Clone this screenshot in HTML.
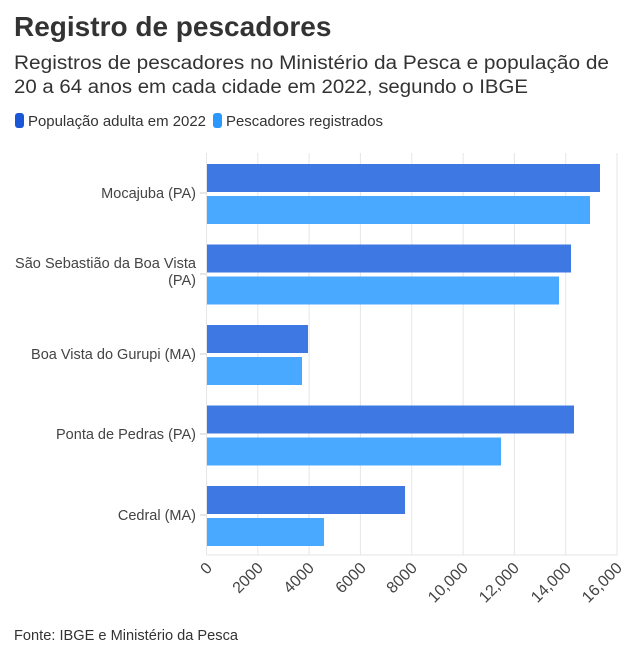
<!DOCTYPE html>
<html><head><meta charset="utf-8"><style>
body{margin:0;background:#fff;font-family:"Liberation Sans",sans-serif;color:#333;}
</style></head><body>
<svg width="639" height="655" xmlns="http://www.w3.org/2000/svg" font-family="Liberation Sans, sans-serif">
<rect width="639" height="655" fill="#fff"/>
<text x="14" y="36" font-size="28" font-weight="bold" fill="#333">Registro de pescadores</text>
<text x="14" y="69" font-size="19" fill="#333" textLength="595" lengthAdjust="spacingAndGlyphs">Registros de pescadores no Ministério da Pesca e população de</text>
<text x="14" y="93" font-size="19" fill="#333" textLength="514" lengthAdjust="spacingAndGlyphs">20 a 64 anos em cada cidade em 2022, segundo o IBGE</text>
<rect x="15" y="113" width="9" height="15" rx="3" fill="#1a57d8"/>
<text x="28" y="126" font-size="14.5" fill="#333" textLength="178" lengthAdjust="spacingAndGlyphs">População adulta em 2022</text>
<rect x="213" y="113" width="9" height="15" rx="3" fill="#2a98ff"/>
<text x="226" y="126" font-size="14.5" fill="#333" textLength="157" lengthAdjust="spacingAndGlyphs">Pescadores registrados</text>
<g stroke="#e6e6e6" stroke-width="1">
<line x1="206.5" y1="153" x2="206.5" y2="555"/><line x1="257.8" y1="153" x2="257.8" y2="555"/><line x1="309.1" y1="153" x2="309.1" y2="555"/><line x1="360.4" y1="153" x2="360.4" y2="555"/><line x1="411.8" y1="153" x2="411.8" y2="555"/><line x1="463.1" y1="153" x2="463.1" y2="555"/><line x1="514.4" y1="153" x2="514.4" y2="555"/><line x1="565.7" y1="153" x2="565.7" y2="555"/><line x1="617" y1="153" x2="617" y2="555"/>
<line x1="206.5" y1="555" x2="617" y2="555"/>
</g>
<g stroke="#ccc"><line x1="200" y1="193" x2="206" y2="193"/><line x1="200" y1="274" x2="206" y2="274"/><line x1="200" y1="354" x2="206" y2="354"/><line x1="200" y1="434" x2="206" y2="434"/><line x1="200" y1="515" x2="206" y2="515"/></g>
<g fill="#3e78e3">
<rect x="207" y="164" width="393" height="28"/>
<rect x="207" y="244.5" width="364" height="28"/>
<rect x="207" y="325" width="101" height="28"/>
<rect x="207" y="405.5" width="367" height="28"/>
<rect x="207" y="486" width="198" height="28"/>
</g>
<g fill="#49a8ff">
<rect x="207" y="196" width="383" height="28"/>
<rect x="207" y="276.5" width="352" height="28"/>
<rect x="207" y="357" width="95" height="28"/>
<rect x="207" y="437.5" width="294" height="28"/>
<rect x="207" y="518" width="117" height="28"/>
</g>
<g font-size="14.5" fill="#444" text-anchor="end">
<text x="196" y="198">Mocajuba (PA)</text>
<text x="196" y="268" textLength="181" lengthAdjust="spacingAndGlyphs">São Sebastião da Boa Vista</text>
<text x="196" y="285">(PA)</text>
<text x="196" y="359">Boa Vista do Gurupi (MA)</text>
<text x="196" y="439">Ponta de Pedras (PA)</text>
<text x="196" y="520">Cedral (MA)</text>
</g>
<g font-size="16" fill="#444" text-anchor="end">
<text transform="translate(213,569) rotate(-45)">0</text>
<text transform="translate(264,569) rotate(-45)">2000</text>
<text transform="translate(315,569) rotate(-45)">4000</text>
<text transform="translate(367,569) rotate(-45)">6000</text>
<text transform="translate(418,569) rotate(-45)">8000</text>
<text transform="translate(469,569) rotate(-45)">10,000</text>
<text transform="translate(520,569) rotate(-45)">12,000</text>
<text transform="translate(572,569) rotate(-45)">14,000</text>
<text transform="translate(623,569) rotate(-45)">16,000</text>
</g>
<text x="14" y="640" font-size="14.5" fill="#333" textLength="224" lengthAdjust="spacingAndGlyphs">Fonte: IBGE e Ministério da Pesca</text>
</svg>
</body></html>
